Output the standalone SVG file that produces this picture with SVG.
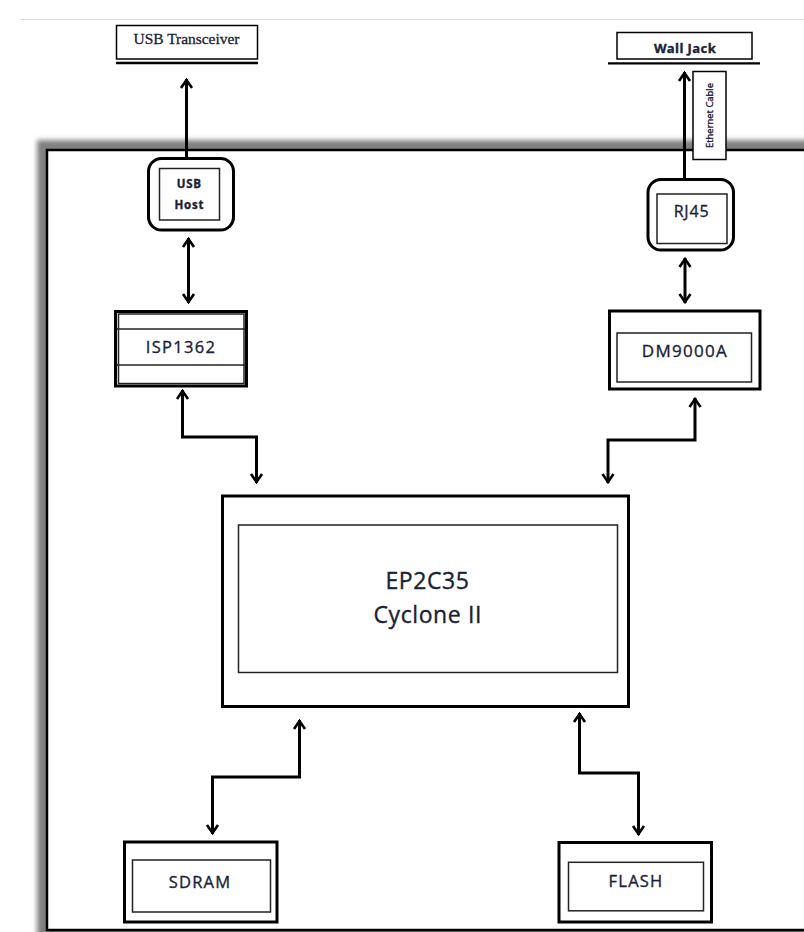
<svg xmlns="http://www.w3.org/2000/svg" width="804" height="932" viewBox="0 0 804 932">
<defs>
<style>
.box{fill:#fff;stroke:#000;stroke-width:3}
.inner{fill:none;stroke:#222;stroke-width:1.5}
.conn{fill:none;stroke:#000;stroke-width:3;stroke-linejoin:miter}
.lbl{font-family:"Open Sans","Noto Sans",sans-serif;fill:#1a2238;stroke:#1a2238;stroke-width:0.35;text-anchor:middle}
</style>
<marker id="ah" viewBox="-12 -8 14 16" refX="0" refY="0" markerWidth="14" markerHeight="16" markerUnits="userSpaceOnUse" orient="auto-start-reverse">
<path d="M-9,-5.5 L-1,0 L-9,5.5" fill="none" stroke="#000" stroke-width="2.6" stroke-linejoin="miter"/>
</marker>
<filter id="sh" x="-5%" y="-5%" width="110%" height="110%">
<feGaussianBlur stdDeviation="2.5"/>
</filter>
</defs>
<rect width="804" height="932" fill="#fff"/>
<line x1="21" y1="19.5" x2="804" y2="19.5" stroke="#d9d9d9" stroke-width="1.2"/>

<g id="frame">
<rect x="37" y="140" width="800" height="820" fill="#808080" filter="url(#sh)"/>
<rect x="47" y="150" width="790" height="780" fill="#fff" stroke="#000" stroke-width="2.5"/>
</g>

<g id="usb-transceiver">
<rect x="116.5" y="25.5" width="141" height="33.5" fill="#fff" stroke="#000" stroke-width="1.5"/>
<line x1="116" y1="63" x2="258" y2="63" stroke="#000" stroke-width="2.6"/>
<text x="186.5" y="44" font-family="Liberation Serif,serif" font-size="15" fill="#1a2238" stroke="#1a2238" stroke-width="0.3" text-anchor="middle" textLength="106" lengthAdjust="spacingAndGlyphs">USB Transceiver</text>
</g>

<g id="wall-jack">
<rect x="617" y="32.5" width="135" height="26.5" fill="#fff" stroke="#000" stroke-width="1.5"/>
<line x1="608" y1="63.3" x2="760" y2="63.3" stroke="#000" stroke-width="2.2"/>
<text x="685" y="52.5" class="lbl" font-size="13" font-weight="bold" letter-spacing="0.4" stroke-width="0">Wall Jack</text>
</g>

<g id="connectors">
<line class="conn" x1="186.5" y1="158" x2="186.5" y2="79" marker-end="url(#ah)"/>
<line class="conn" x1="188.5" y1="238" x2="188.5" y2="303" marker-start="url(#ah)" marker-end="url(#ah)"/>
<path class="conn" d="M182.5,390 V437 H256.5 V483" marker-start="url(#ah)" marker-end="url(#ah)"/>
<path class="conn" d="M695,398 V440 H608 V483" marker-start="url(#ah)" marker-end="url(#ah)"/>
<line class="conn" x1="685" y1="258" x2="685" y2="303" marker-start="url(#ah)" marker-end="url(#ah)"/>
<line class="conn" x1="684.5" y1="179" x2="684.5" y2="72" marker-end="url(#ah)"/>
<path class="conn" d="M299.5,720 V777 H212.5 V834" marker-start="url(#ah)" marker-end="url(#ah)"/>
<path class="conn" d="M579.5,713 V773 H638.5 V835" marker-start="url(#ah)" marker-end="url(#ah)"/>
</g>

<g id="ethernet-cable">
<rect x="693" y="71.5" width="33" height="88" fill="#fff" stroke="#000" stroke-width="1.5"/>
<text x="712.5" y="115.5" class="lbl" font-size="9" stroke-width="0.2" transform="rotate(-90 712.5 115.5)" textLength="65" lengthAdjust="spacingAndGlyphs">Ethernet Cable</text>
</g>

<g id="usb-host">
<rect x="148.5" y="158.5" width="85" height="71.5" rx="13" ry="13" class="box" stroke-width="2.5"/>
<rect x="159.5" y="168.5" width="60" height="51.5" class="inner"/>
<text x="189.3" y="187.7" class="lbl" font-size="11.5" font-weight="bold" letter-spacing="0.8" stroke-width="0">USB</text>
<text x="189.3" y="209.3" class="lbl" font-size="11.5" font-weight="bold" letter-spacing="0.8" stroke-width="0">Host</text>
</g>

<g id="rj45">
<rect x="648" y="179.5" width="85.5" height="70.5" rx="13" ry="13" class="box" stroke-width="2.5"/>
<rect x="657" y="194" width="70" height="49.5" class="inner"/>
<text x="691.5" y="216.7" class="lbl" font-size="16" letter-spacing="0.8">RJ45</text>
</g>

<g id="isp1362">
<rect x="115.5" y="311.5" width="131" height="74.5" class="box"/>
<rect x="118.5" y="314" width="125.5" height="69.5" class="inner"/>
<line x1="117" y1="329" x2="245" y2="329" stroke="#222" stroke-width="1.5"/>
<line x1="117" y1="365" x2="245" y2="365" stroke="#222" stroke-width="1.5"/>
<text x="181" y="353" class="lbl" font-size="16.5" letter-spacing="1.3">ISP1362</text>
</g>

<g id="dm9000a">
<rect x="609.5" y="311" width="150.5" height="78" class="box"/>
<rect x="617" y="333" width="134.5" height="49" class="inner"/>
<text x="685" y="357" class="lbl" font-size="17" letter-spacing="1.3">DM9000A</text>
</g>

<g id="ep2c35">
<rect x="222.5" y="496" width="406" height="210.5" class="box"/>
<rect x="238.5" y="525" width="379" height="147.5" class="inner"/>
<text x="427.5" y="588.5" class="lbl" font-size="23" letter-spacing="0.6" stroke-width="0.4">EP2C35</text>
<text x="427.7" y="622.7" class="lbl" font-size="23" letter-spacing="0.6" stroke-width="0.4">Cyclone II</text>
</g>

<g id="sdram">
<rect x="124.5" y="842" width="152.5" height="80" class="box"/>
<rect x="132.5" y="860" width="138" height="52" class="inner"/>
<text x="200" y="888.3" class="lbl" font-size="16.5" letter-spacing="1.2">SDRAM</text>
</g>

<g id="flash">
<rect x="559" y="842.5" width="152.5" height="79.5" class="box"/>
<rect x="568.5" y="862.3" width="135" height="48.5" class="inner"/>
<text x="636" y="887.3" class="lbl" font-size="16.5" letter-spacing="1.2">FLASH</text>
</g>
</svg>
